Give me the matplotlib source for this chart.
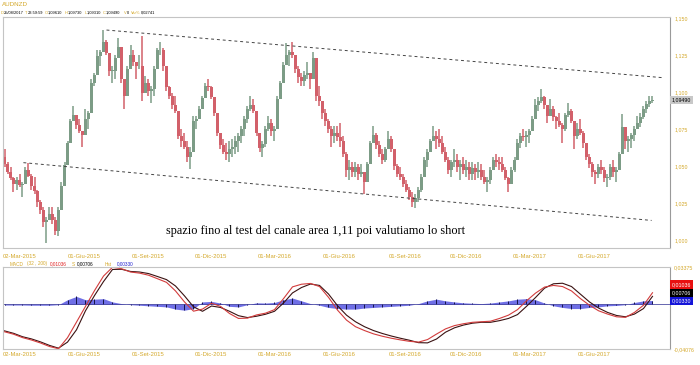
import numpy as np
import matplotlib
matplotlib.use('Agg')
import matplotlib.pyplot as plt
import matplotlib.transforms as mtransforms

plt.rcParams['font.family'] = ['Liberation Sans', 'DejaVu Sans']

GOLD = '#d4a82a'
UP = '#7c9c86'
DOWN = '#d2606a'

# AUDNZD, barre da 3 sedute (mar 2015 - ago 2017)
first_open = 1.0567
high = [1.0615, 1.0533, 1.0499, 1.0430, 1.0430, 1.0451, 1.0396, 1.0499, 1.0526, 1.0451,
        1.0430, 1.0341, 1.0273, 1.0225, 1.0157, 1.0225, 1.0225, 1.0157, 1.0225, 1.0396,
        1.0533, 1.0669, 1.0820, 1.0908, 1.0840, 1.0820, 1.0738, 1.0888, 1.0874, 1.1093,
        1.1133, 1.1284, 1.1284, 1.1421, 1.1352, 1.1250, 1.1181, 1.1250, 1.1366, 1.1216,
        1.1024, 1.1181, 1.1318, 1.1284, 1.1181, 1.1250, 1.1380, 1.1113, 1.1093, 1.1045,
        1.1181, 1.1298, 1.1339, 1.1298, 1.1113, 1.1045, 1.0997, 1.0977, 1.0806, 1.0751,
        1.0724, 1.0669, 1.0635, 1.0840, 1.0840, 1.0908, 1.0977, 1.1065, 1.1093, 1.1045,
        1.0942, 1.0806, 1.0724, 1.0683, 1.0656, 1.0669, 1.0683, 1.0703, 1.0724, 1.0772,
        1.0840, 1.0908, 1.0977, 1.0956, 1.0820, 1.0703, 1.0669, 1.0772, 1.0840, 1.0820,
        1.0772, 1.0977, 1.1079, 1.1202, 1.1332, 1.1284, 1.1339, 1.1229, 1.1181, 1.1133,
        1.1147, 1.1202, 1.1133, 1.1270, 1.1181, 1.1045, 1.0942, 1.0888, 1.0820, 1.0772,
        1.0772, 1.0772, 1.0792, 1.0703, 1.0601, 1.0546, 1.0533, 1.0533, 1.0519, 1.0519,
        1.0451, 1.0533, 1.0669, 1.0772, 1.0724, 1.0669, 1.0615, 1.0635, 1.0738, 1.0703,
        1.0587, 1.0519, 1.0499, 1.0451, 1.0410, 1.0362, 1.0328, 1.0314, 1.0362, 1.0451,
        1.0567, 1.0615, 1.0683, 1.0772, 1.0738, 1.0751, 1.0703, 1.0635, 1.0567, 1.0546,
        1.0615, 1.0587, 1.0546, 1.0567, 1.0546, 1.0533, 1.0533, 1.0519, 1.0533, 1.0519,
        1.0478, 1.0430, 1.0499, 1.0567, 1.0587, 1.0567, 1.0567, 1.0499, 1.0430, 1.0499,
        1.0567, 1.0683, 1.0724, 1.0751, 1.0738, 1.0751, 1.0840, 1.0956, 1.0970, 1.1024,
        1.0977, 1.0908, 1.0956, 1.0908, 1.0840, 1.0861, 1.0792, 1.0861, 1.0929, 1.0888,
        1.0751, 1.0792, 1.0820, 1.0738, 1.0635, 1.0587, 1.0533, 1.0478, 1.0519, 1.0546,
        1.0499, 1.0451, 1.0519, 1.0546, 1.0499, 1.0601, 1.0854, 1.0738, 1.0703, 1.0724,
        1.0772, 1.0840, 1.0861, 1.0908, 1.0942, 1.0977, 1.0973]
low = [1.0499, 1.0451, 1.0410, 1.0328, 1.0341, 1.0362, 1.0294, 1.0396, 1.0430, 1.0341,
       1.0314, 1.0225, 1.0177, 1.0089, 0.9986, 1.0136, 1.0109, 1.0041, 1.0034, 1.0260,
       1.0410, 1.0546, 1.0703, 1.0820, 1.0751, 1.0724, 1.0635, 1.0738, 1.0751, 1.0874,
       1.1045, 1.1202, 1.1181, 1.1318, 1.1250, 1.1113, 1.1065, 1.1093, 1.1284, 1.1065,
       1.0888, 1.0977, 1.1202, 1.1181, 1.1093, 1.1161, 1.0942, 1.0997, 1.0977, 1.0929,
       1.0977, 1.1202, 1.1250, 1.1147, 1.1011, 1.0956, 1.0888, 1.0861, 1.0683, 1.0635,
       1.0615, 1.0533, 1.0485, 1.0669, 1.0751, 1.0820, 1.0888, 1.0977, 1.1011, 1.0956,
       1.0840, 1.0703, 1.0615, 1.0587, 1.0546, 1.0533, 1.0567, 1.0587, 1.0601, 1.0656,
       1.0703, 1.0792, 1.0874, 1.0861, 1.0703, 1.0601, 1.0567, 1.0635, 1.0738, 1.0703,
       1.0669, 1.0874, 1.0956, 1.1113, 1.1202, 1.1181, 1.1229, 1.1133, 1.1065, 1.1045,
       1.1045, 1.1093, 1.1024, 1.1181, 1.0942, 1.0908, 1.0820, 1.0772, 1.0724, 1.0635,
       1.0656, 1.0669, 1.0635, 1.0567, 1.0430, 1.0410, 1.0430, 1.0430, 1.0410, 1.0430,
       1.0314, 1.0410, 1.0546, 1.0669, 1.0615, 1.0567, 1.0519, 1.0533, 1.0615, 1.0601,
       1.0478, 1.0430, 1.0410, 1.0362, 1.0328, 1.0273, 1.0225, 1.0218, 1.0260, 1.0328,
       1.0464, 1.0499, 1.0601, 1.0669, 1.0615, 1.0635, 1.0587, 1.0533, 1.0451, 1.0430,
       1.0499, 1.0464, 1.0410, 1.0451, 1.0430, 1.0410, 1.0410, 1.0410, 1.0423, 1.0410,
       1.0382, 1.0328, 1.0382, 1.0478, 1.0499, 1.0478, 1.0464, 1.0410, 1.0328, 1.0396,
       1.0464, 1.0601, 1.0628, 1.0669, 1.0635, 1.0656, 1.0751, 1.0861, 1.0874, 1.0929,
       1.0888, 1.0792, 1.0861, 1.0806, 1.0751, 1.0765, 1.0656, 1.0738, 1.0833, 1.0792,
       1.0615, 1.0683, 1.0710, 1.0628, 1.0546, 1.0492, 1.0430, 1.0382, 1.0423, 1.0451,
       1.0396, 1.0362, 1.0410, 1.0430, 1.0396, 1.0499, 1.0738, 1.0615, 1.0601, 1.0628,
       1.0669, 1.0751, 1.0765, 1.0820, 1.0861, 1.0902, 1.0931]
close = [1.0519, 1.0464, 1.0423, 1.0382, 1.0410, 1.0376, 1.0382, 1.0478, 1.0437, 1.0369,
         1.0335, 1.0260, 1.0205, 1.0123, 1.0136, 1.0177, 1.0136, 1.0068, 1.0205, 1.0369,
         1.0512, 1.0656, 1.0806, 1.0847, 1.0779, 1.0738, 1.0710, 1.0820, 1.0861, 1.1065,
         1.1120, 1.1243, 1.1270, 1.1339, 1.1263, 1.1147, 1.1147, 1.1229, 1.1304, 1.1093,
         1.0977, 1.1161, 1.1250, 1.1202, 1.1175, 1.1181, 1.0997, 1.1065, 1.1011, 1.1024,
         1.1161, 1.1284, 1.1284, 1.1175, 1.1038, 1.0977, 1.0915, 1.0874, 1.0703, 1.0669,
         1.0635, 1.0567, 1.0601, 1.0806, 1.0820, 1.0888, 1.0963, 1.1045, 1.1038, 1.0970,
         1.0861, 1.0724, 1.0642, 1.0601, 1.0587, 1.0615, 1.0635, 1.0669, 1.0703, 1.0751,
         1.0820, 1.0888, 1.0915, 1.0874, 1.0724, 1.0628, 1.0649, 1.0751, 1.0792, 1.0738,
         1.0751, 1.0956, 1.1065, 1.1188, 1.1250, 1.1270, 1.1250, 1.1161, 1.1106, 1.1079,
         1.1120, 1.1133, 1.1093, 1.1229, 1.0977, 1.0942, 1.0861, 1.0806, 1.0751, 1.0703,
         1.0724, 1.0697, 1.0669, 1.0587, 1.0478, 1.0499, 1.0464, 1.0499, 1.0451, 1.0464,
         1.0396, 1.0519, 1.0656, 1.0710, 1.0642, 1.0587, 1.0546, 1.0615, 1.0683, 1.0615,
         1.0505, 1.0451, 1.0430, 1.0382, 1.0341, 1.0294, 1.0260, 1.0287, 1.0341, 1.0430,
         1.0546, 1.0601, 1.0669, 1.0703, 1.0683, 1.0656, 1.0601, 1.0546, 1.0478, 1.0533,
         1.0546, 1.0499, 1.0519, 1.0478, 1.0499, 1.0451, 1.0492, 1.0464, 1.0478, 1.0430,
         1.0396, 1.0410, 1.0478, 1.0546, 1.0533, 1.0519, 1.0478, 1.0423, 1.0382, 1.0478,
         1.0546, 1.0656, 1.0703, 1.0697, 1.0710, 1.0738, 1.0820, 1.0915, 1.0942, 1.0970,
         1.0915, 1.0840, 1.0888, 1.0833, 1.0806, 1.0779, 1.0751, 1.0847, 1.0874, 1.0806,
         1.0703, 1.0751, 1.0724, 1.0656, 1.0567, 1.0519, 1.0464, 1.0451, 1.0499, 1.0478,
         1.0423, 1.0430, 1.0499, 1.0464, 1.0478, 1.0587, 1.0765, 1.0669, 1.0683, 1.0710,
         1.0751, 1.0792, 1.0833, 1.0888, 1.0922, 1.0942, 1.0949]

date_ticks = [-0.5, 21, 42.5, 63.5, 84.5, 106, 128, 148.5, 169.5, 191]
date_labels = ['02-Mar-2015', '01-Giu-2015', '01-Set-2015', '01-Dic-2015', '01-Mar-2016',
               '01-Giu-2016', '01-Set-2016', '01-Dic-2016', '01-Mar-2017', '01-Giu-2017']
price_ticks = [1.000, 1.025, 1.050, 1.075, 1.100, 1.125, 1.150]

# canale ribassista (estremi delle due trendline)
upper_x = [34, 219.7]
upper_y = [1.1421, 1.1099]
lower_x = [6.3, 215.7]
lower_y = [1.0526, 1.0136]

# MACD (32, 200): un valore ogni 3 barre
macd = [-0.0251, -0.0273, -0.0304, -0.0326, -0.0353, -0.0385, -0.0405, -0.0305, -0.0163, -0.0020,
        0.0123, 0.0255, 0.0335, 0.0322, 0.0292, 0.0282, 0.0263, 0.0231, 0.0198, 0.0120,
        0.0020, -0.0064, -0.0045, 0.0008, -0.0020, -0.0085, -0.0130, -0.0127, -0.0098, -0.0082,
        -0.0050, 0.0050, 0.0157, 0.0181, 0.0188, 0.0160, 0.0062, -0.0054, -0.0145,
        -0.0205, -0.0240, -0.0270, -0.0292, -0.0310, -0.0325, -0.0338, -0.0345, -0.0322, -0.0272,
        -0.0225, -0.0195, -0.0178, -0.0165, -0.0160, -0.0155, -0.0130, -0.0100, -0.0050, 0.0030,
        0.0100, 0.0155, 0.0170, 0.0160, 0.0120, 0.0050, -0.0010, -0.0060, -0.0090, -0.0115,
        -0.0120, -0.0075, -0.0010, 0.01036]
hist = [-0.0008, -0.0008, -0.0008, -0.0010, -0.0010, -0.0010, -0.0005, 0.0040, 0.0070, 0.0040,
        0.0045, 0.0050, 0.0020, 0.0005, -0.0005, -0.0010, -0.0015, -0.0020, -0.0025, -0.0045,
        -0.0055, -0.0040, 0.0020, 0.0025, 0.0010, -0.0020, -0.0025, -0.0005, 0.0012, 0.0010,
        0.0015, 0.0040, 0.0055, 0.0030, 0.0005, -0.0010, -0.0030, -0.0040, -0.0045,
        -0.0045, -0.0035, -0.0030, -0.0025, -0.0020, -0.0015, -0.0010, 0.0005, 0.0030, 0.0045,
        0.0030, 0.0020, 0.0012, 0.0008, 0.0005, 0.0010, 0.0020, 0.0030, 0.0045, 0.0050,
        0.0040, 0.0010, -0.0015, -0.0030, -0.0040, -0.0040, -0.0030, -0.0025, -0.0015, -0.0012,
        -0.0005, 0.0015, 0.0030, 0.0033]
macd_step = 3
macd_lim = (-0.04076, 0.03375)


def px(x, y):
    return x / 700, 1 - y / 365


def fmt(v, nd):
    return ('{:.%df}' % nd).format(v).replace('.', ',')


fig = plt.figure(figsize=(7, 3.65), dpi=100)
ax = fig.add_axes([3 / 700, 1 - 248 / 365, 667 / 700, 231 / 365])
axm = fig.add_axes([3 / 700, 1 - 349 / 365, 667 / 700, 82 / 365])

# candele
c = np.array(close)
o = np.r_[first_open, c[:-1]]
idx = np.arange(len(c))
cols = np.where(c >= o, UP, DOWN)
ax.vlines(idx, low, high, colors=cols, lw=1.1)
body = np.maximum(np.abs(c - o), 0.0004)
ax.bar(idx, body, bottom=np.minimum(o, c), width=0.85, color=cols, linewidth=0)

ax.plot(upper_x, upper_y, color='#444444', lw=0.7, dashes=(3, 3))
ax.plot(lower_x, lower_y, color='#444444', lw=0.7, dashes=(3, 3))

ax.text(53.8, 1.0068, 'spazio fino al test del canale area 1,11 poi valutiamo lo short',
        family='Liberation Serif', fontsize=8.8, va='center', ha='left')

xlim = (-0.5, -0.5 + 667 / 3)
ax.set_xlim(*xlim)
ax.set_ylim(0.9950, 1.1509)

# MACD
pos = np.arange(len(macd)) * macd_step
m = np.array(macd)
h = np.array(hist)
sig = m - h
axm.fill_between(pos, 0, h, color='#6f6fe6', lw=0)
axm.vlines(pos, 0, h, color='#151545', lw=0.7)
axm.axhline(0, color='#2a2a90', lw=0.5)
axm.plot(pos, sig, color='#3a1212', lw=0.8)
axm.plot(pos, m, color='#d23c3c', lw=0.8)
axm.set_xlim(*xlim)
axm.set_ylim(*macd_lim)

for a in (ax, axm):
    a.set_xticks(date_ticks)
    a.set_xticklabels(date_labels, ha='left')
    a.yaxis.tick_right()
    a.tick_params(length=0, labelsize=4.2, colors=GOLD)
    for s in a.spines.values():
        s.set_color('#c4c4c4')
        s.set_linewidth(0.8)
    a.spines['right'].set_color('#9a9a9a')

ax.tick_params(axis='x', pad=4.5)
axm.tick_params(axis='x', pad=2.5)
ax.set_yticks(price_ticks)
ax.set_yticklabels([fmt(v, 3) for v in price_ticks])
ax.tick_params(axis='y', labelsize=3.8, pad=3)
axm.set_yticks(list(macd_lim))
axm.set_yticklabels([fmt(v, 5) for v in macd_lim])
axm.tick_params(axis='y', labelsize=3.8, pad=3)

# etichette ultimo prezzo
tr = mtransforms.blended_transform_factory(ax.transAxes, ax.transData)
ax.text(1.003, close[-1], fmt(close[-1], 5), transform=tr, fontsize=3.8, va='center',
        ha='left', bbox=dict(boxstyle='square,pad=0.35', fc='#c8c8c8', ec='none'))
trm = mtransforms.blended_transform_factory(axm.transAxes, axm.transData)
for k, (val, fc, tc) in enumerate([(hist[-1], '#1414d8', 'white'),
                                   (sig[-1], 'black', 'white'),
                                   (macd[-1], '#e81010', 'white')]):
    t = axm.text(1.003, hist[-1], fmt(val, 5), transform=trm, fontsize=3.8, va='center',
                 ha='left', color=tc,
                 bbox=dict(boxstyle='square,pad=0.35', fc=fc, ec='none'))
    t.set_transform(trm + mtransforms.ScaledTranslation(0, k * 8 / 100, fig.dpi_scale_trans))

# intestazione
fig.text(*px(2, 5), 'AUDNZD', color=GOLD, fontsize=4.5, va='center')
header = [('D', GOLD, 1), ('25/08/2017', 'black', 4), ('T', GOLD, 25), ('23:59:59', 'black', 28),
          ('O', GOLD, 45), ('1,09610', 'black', 48), ('H', GOLD, 65), ('1,09730', 'black', 68),
          ('L', GOLD, 85), ('1,09310', 'black', 87), ('C', GOLD, 103), ('1,09490', 'black', 106),
          ('V', GOLD, 124), ('0', 'black', 127), ('Var%', GOLD, 131), ('0,02741', 'black', 141)]
for s, col, x in header:
    fig.text(*px(x, 13), s, color=col, fontsize=2.9, va='center')

legend = [('MACD', GOLD, 10), ('(32 , 200)', GOLD, 27), ('0,01036', '#e02020', 50),
          ('S', GOLD, 72), ('0,00706', 'black', 77), ('Hst', GOLD, 105), ('0,00330', '#2020d0', 117)]
for s, col, x in legend:
    fig.text(*px(x, 264), s, color=col, fontsize=3.4, va='center')

fig.savefig('out.png', dpi=100)
